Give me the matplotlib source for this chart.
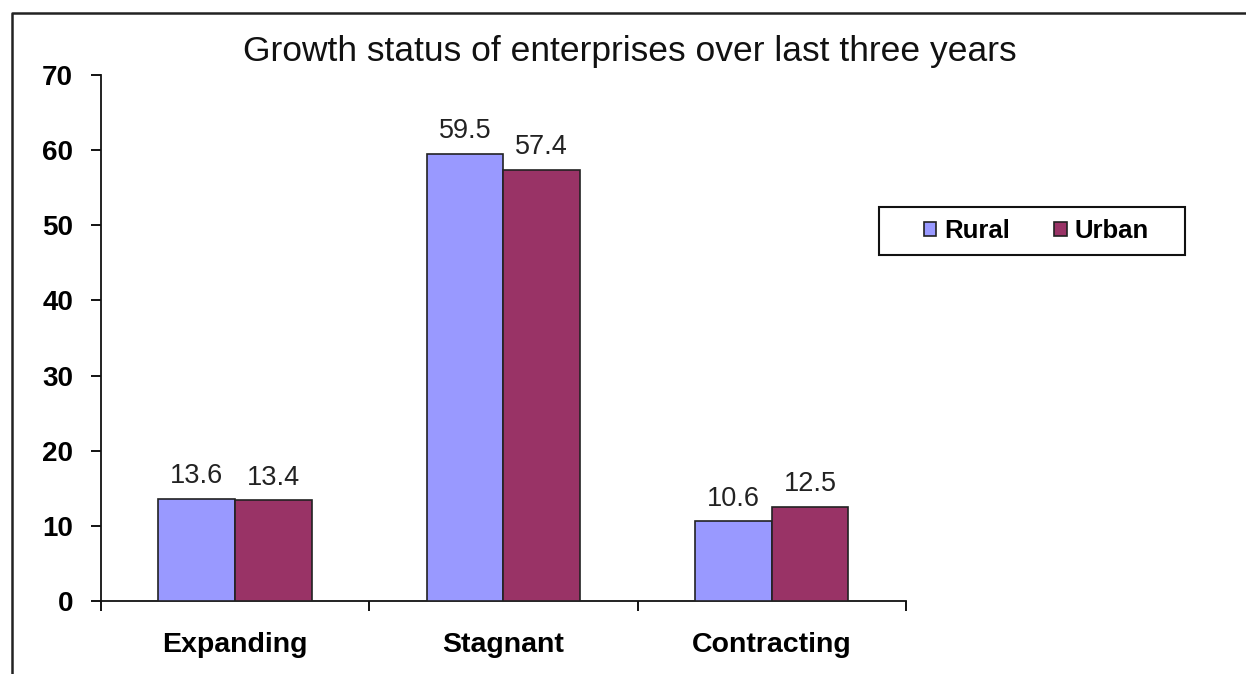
import numpy as np
import matplotlib
matplotlib.use("Agg")
import matplotlib.pyplot as plt
from matplotlib.lines import Line2D
from matplotlib.patches import Rectangle

categories = ["Expanding", "Stagnant", "Contracting"]
rural = [13.6, 59.5, 10.6]
urban = [13.4, 57.4, 12.5]
series_names = ["Rural", "Urban"]

plt.rcParams["font.family"] = ["Liberation Sans", "DejaVu Sans"]

W, H = 1246, 674
fig = plt.figure(figsize=(W / 100, H / 100), dpi=100)
ax = fig.add_axes([101 / W, 1 - 601 / H, 805 / W, 526 / H])

index = np.arange(len(categories))
width = 1 / 3.5  # excel gap width 150%

b1 = ax.bar(index - width / 2, rural, width, color="#9999FF", edgecolor="#222222",
            linewidth=1.2, label=series_names[0], zorder=3)
b2 = ax.bar(index + width / 2, urban, width, color="#993366", edgecolor="#222222",
            linewidth=1.2, label=series_names[1], zorder=3)

for bars in (b1, b2):
    for rect in bars:
        h = rect.get_height()
        ax.annotate(f"{h:.1f}", (rect.get_x() + rect.get_width() / 2, h),
                    xytext=(0, 7), textcoords="offset points",
                    ha="center", va="bottom", fontsize=19.5, color="#222222")

ax.set_xlim(-0.5, len(categories) - 0.5)
ax.set_ylim(0, 70)
ax.set_yticks(np.arange(0, 71, 10))
ax.set_xticks(index)
ax.set_xticklabels(categories, fontsize=20.5, fontweight="bold")
ax.set_xticks(np.arange(-0.5, len(categories), 1), minor=True)
ax.tick_params(axis="x", which="major", length=0, pad=22)
ax.tick_params(axis="x", which="minor", length=7, width=1.3, direction="out")
ax.tick_params(axis="y", length=7, width=1.3, direction="out", pad=13, labelsize=20)
for lab in ax.get_yticklabels():
    lab.set_fontweight("bold")

for side in ("top", "right"):
    ax.spines[side].set_visible(False)
for side in ("left", "bottom"):
    ax.spines[side].set_linewidth(1.3)
    ax.spines[side].set_color("#111111")

fig.text(630 / W, 1 - 52 / H, "Growth status of enterprises over last three years",
         ha="center", va="center", fontsize=25.5, color="#111111")

# legend box drawn separately so its padding matches the excel layout
fig.add_artist(Rectangle((879 / W, 1 - 255 / H), 306 / W, 48 / H,
                         transform=fig.transFigure, facecolor="white",
                         edgecolor="#111111", linewidth=1.5, zorder=4))
leg = fig.legend(handles=[b1, b2], loc="center", ncol=2,
                 bbox_to_anchor=(1036 / W, 1 - 231 / H),
                 prop={"weight": "bold", "size": 18.5},
                 frameon=False,
                 handlelength=0.5, handleheight=0.5, handletextpad=0.3,
                 columnspacing=1.7, borderpad=0.0, borderaxespad=0)
leg.set_zorder(5)

# outer chart frame (left and top edges visible)
fig.add_artist(Line2D([12 / W, 12 / W, 1.0], [0.0, 1 - 13 / H, 1 - 13 / H],
                      transform=fig.transFigure, color="#222222", linewidth=1.8))

plt.savefig("out.png", dpi=100)
